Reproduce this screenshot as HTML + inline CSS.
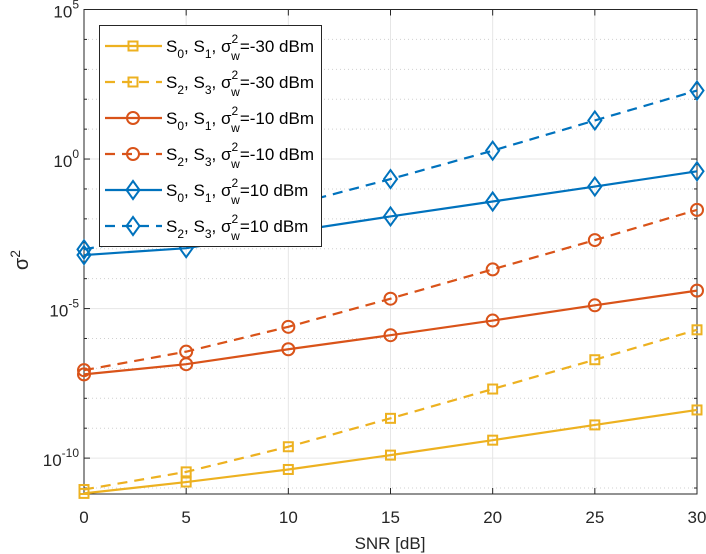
<!DOCTYPE html>
<html><head><meta charset="utf-8"><style>
body{margin:0;background:#fff;}
svg{display:block;font-family:"Liberation Sans",sans-serif;}
</style></head><body>
<svg id="chart" width="706" height="554"></svg>
<script>
const snr=[0,5,10,15,20,25,30];
const s01m30=[-11.18,-10.80,-10.38,-9.90,-9.40,-8.89,-8.39];
const s23m30=[-11.05,-10.46,-9.62,-8.67,-7.69,-6.71,-5.71];
const s01m10=[-7.20,-6.86,-6.36,-5.89,-5.40,-4.89,-4.40];
const s23m10=[-7.06,-6.44,-5.61,-4.67,-3.69,-2.71,-1.70];
const s01p10=[-3.21,-2.98,-2.44,-1.92,-1.42,-0.92,-0.41];
const s23p10=[-3.02,-2.40,-1.57,-0.67,0.28,1.29,2.29];
const xTicks=[0,5,10,15,20,25,30];
const yTickExp=[5,0,-5,-10];
const legendLabels=[["0","1","-30"],["2","3","-30"],["0","1","-10"],["2","3","-10"],["0","1","10"],["2","3","10"]];

const NS="http://www.w3.org/2000/svg";
const svg=document.getElementById('chart');
const L=84,R=697,T=9.5,B=494,yMin=-11.2,yMax=5;
const X=v=>L+(v-0)/30*(R-L);
const Y=e=>B-(e-yMin)/(yMax-yMin)*(B-T);
function el(t,a,p){const e=document.createElementNS(NS,t);for(const k in a)e.setAttribute(k,a[k]);(p||svg).appendChild(e);return e;}

const grid=el('g',{});


for(let e=Math.ceil(yMin);e<=5;e++){
  if(e%5===0) el('line',{x1:L,x2:R,y1:Y(e),y2:Y(e),stroke:'#e6e6e6','stroke-width':1},grid);
  else el('line',{x1:L,x2:R,y1:Y(e),y2:Y(e),stroke:'#d0d0d0','stroke-width':1,'stroke-dasharray':'1,3'},grid);
}
xTicks.forEach(v=>el('line',{x1:X(v),x2:X(v),y1:T,y2:B,stroke:'#e6e6e6','stroke-width':1},grid));

const axes=el('g',{});


el('rect',{x:L,y:T,width:R-L,height:B-T,fill:'none',stroke:'#262626','stroke-width':1},axes);
xTicks.forEach(v=>{
  el('line',{x1:X(v),x2:X(v),y1:B,y2:B-6,stroke:'#262626'},axes);
  el('line',{x1:X(v),x2:X(v),y1:T,y2:T+6,stroke:'#262626'},axes);
  const t=el('text',{x:X(v),y:B+29,'text-anchor':'middle','font-size':17,fill:'#262626'},axes);
  t.textContent=v;
  
  
});
for(let e=Math.ceil(yMin);e<=5;e++){
  const len=e%5===0?6:3;
  el('line',{x1:L,x2:L+len,y1:Y(e),y2:Y(e),stroke:'#262626'},axes);
  el('line',{x1:R,x2:R-len,y1:Y(e),y2:Y(e),stroke:'#262626'},axes);
}
yTickExp.forEach(e=>{
  const t=el('text',{x:79,y:Y(e)+8,'text-anchor':'end','font-size':17,fill:'#262626'},axes);
  t.innerHTML='10<tspan dy="-9" font-size="12">'+e+'</tspan>';
  
  
});
const xl=el('text',{x:390,y:549,'text-anchor':'middle','font-size':17,fill:'#262626'});
xl.textContent='SNR [dB]';


const yl=el('text',{x:0,y:0,transform:'translate(28,260) rotate(-90)','text-anchor':'middle','font-size':20,fill:'#262626'});
yl.innerHTML='σ<tspan dy="-8" font-size="14">2</tspan>';



const colors={y:'#EDB120',o:'#D95319',b:'#0072BD'};
function marker(g,type,cx,cy,c){
  if(type==='s') el('rect',{x:cx-4.5,y:cy-4.5,width:9,height:9,fill:'none',stroke:c,'stroke-width':2},g);
  else if(type==='o') el('circle',{cx,cy,r:6,fill:'none',stroke:c,'stroke-width':2},g);
  else el('polygon',{points:`${cx},${cy-9} ${cx+6.5},${cy} ${cx},${cy+9} ${cx-6.5},${cy}`,fill:'none',stroke:c,'stroke-width':2},g);
}
const series=[[s01m30,colors.y,'s',false,'series-s01-m30'],[s23m30,colors.y,'s',true,'series-s23-m30'],
[s01m10,colors.o,'o',false,'series-s01-m10'],[s23m10,colors.o,'o',true,'series-s23-m10'],
[s01p10,colors.b,'d',false,'series-s01-p10'],[s23p10,colors.b,'d',true,'series-s23-p10']];
series.forEach(([d,c,m,dash,name])=>{
  const g=el('g',{});
  
  
  const a={points:d.map((v,i)=>X(snr[i])+','+Y(v)).join(' '),fill:'none',stroke:c,'stroke-width':2.2};
  if(dash)a['stroke-dasharray']='10,7';
  el('polyline',a,g);
  d.forEach((v,i)=>marker(g,m,X(snr[i]),Y(v),c));
});

const lg=el('g',{});


el('rect',{x:99.5,y:25.5,width:222,height:221,fill:'#fff',stroke:'#262626','stroke-width':1},lg);
series.forEach(([d,c,m,dash,name],i)=>{
  const cy=46+i*36;
  const g=el('g',{},lg);
  
  
  const a={x1:105,x2:162,y1:cy,y2:cy,stroke:c,'stroke-width':2.2};
  if(dash)a['stroke-dasharray']='10,7';
  el('line',a,g);
  marker(g,m,133,cy,c);
  const [a1,a2,p]=legendLabels[i];
  const t=el('text',{x:166,y:cy+6,'font-size':17,fill:'#000'},g);
  t.innerHTML=`S<tspan dy="6" font-size="12">${a1}</tspan><tspan dy="-6">, S</tspan><tspan dy="6" font-size="12">${a2}</tspan><tspan dy="-6">, σ</tspan><tspan dy="-9" font-size="12">2</tspan><tspan dx="-7" dy="17" font-size="12">w</tspan><tspan dy="-8">=${p} dBm</tspan>`;
});
</script>
</body></html>
